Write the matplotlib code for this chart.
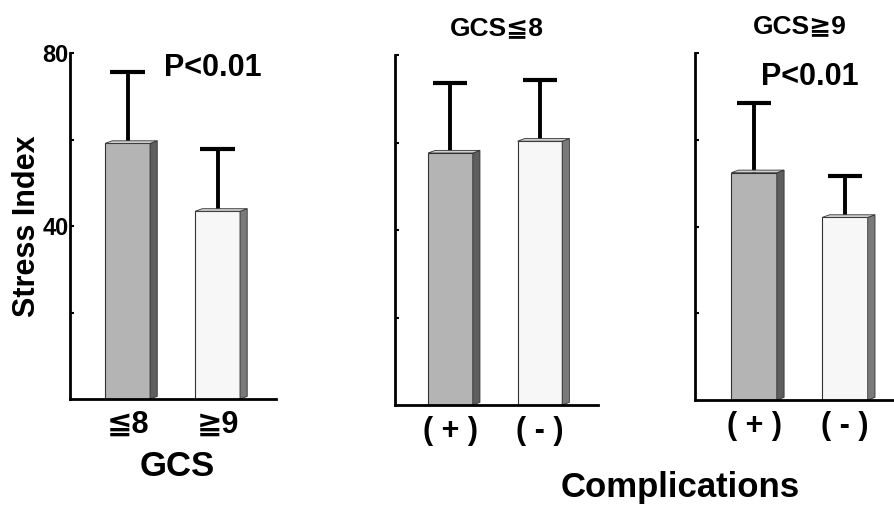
import numpy as np
import matplotlib.pyplot as plt
from matplotlib.patches import Polygon

plt.rcParams['font.family'] = ['Liberation Sans', 'DejaVu Sans']
plt.rcParams['font.weight'] = 'bold'

# values (mean, mean + SD)
gcs_labels = ['≦8', '≧9']
gcs_mean = [59.1, 43.4]
gcs_upper = [75.7, 57.7]

comp_labels = ['( + )', '( - )']
low_mean = [57.6, 60.3]      # GCS <= 8
low_upper = [73.6, 74.4]
high_mean = [52.4, 42.1]     # GCS >= 9
high_upper = [68.5, 51.7]

bar_colors = ['#b4b4b4', '#f7f7f7']
side_colors = ['#5e5e5e', '#7a7a7a']

W, H = 894, 507
fig = plt.figure(figsize=(W / 100, H / 100), dpi=100)


def px_axes(x0, x1, ytop, ybot):
    return fig.add_axes([x0 / W, 1 - ybot / H, (x1 - x0) / W, (ybot - ytop) / H])


def draw_panel(ax, means, uppers, labels, xlim, yticklabels):
    x = np.arange(len(means))
    width = 0.5
    depth = 0.08
    for i in range(len(means)):
        ax.bar(x[i], means[i], width, color=bar_colors[i], edgecolor='#333333',
               linewidth=0.8, zorder=2)
        r = x[i] + width / 2
        side = Polygon([(r, 0), (r + depth, 0.6), (r + depth, means[i] + 0.6), (r, means[i])],
                       closed=True, facecolor=side_colors[i], edgecolor='#333333',
                       linewidth=0.6, zorder=2)
        ax.add_patch(side)
        l = x[i] - width / 2
        top = Polygon([(l, means[i]), (l + depth, means[i] + 0.6), (r + depth, means[i] + 0.6),
                       (r, means[i])], closed=True, facecolor='#d0d0d0',
                      edgecolor='#333333', linewidth=0.6, zorder=2)
        ax.add_patch(top)
        # error bar (upper only)
        ax.plot([x[i], x[i]], [means[i], uppers[i]], color='black', lw=2.8, zorder=1)
        ax.plot([x[i] - 0.19, x[i] + 0.19], [uppers[i], uppers[i]], color='black',
                lw=3, solid_capstyle='butt', zorder=1)
    ax.set_xlim(*xlim)
    ax.set_ylim(0, 80)
    for s in ['top', 'right']:
        ax.spines[s].set_visible(False)
    for s in ['left', 'bottom']:
        ax.spines[s].set_linewidth(2)
    ax.set_yticks([20, 40, 60, 80])
    ax.set_yticklabels(yticklabels, fontsize=17, fontweight='bold')
    ax.tick_params(axis='y', direction='in', length=3, width=1.5, pad=1)
    ax.set_xticks(x)
    ax.set_xticklabels(labels, fontsize=22, fontweight='bold')
    ax.tick_params(axis='x', length=0, pad=8)
    ax.patch.set_alpha(0)


ax1 = px_axes(70, 276, 53, 399)
draw_panel(ax1, gcs_mean, gcs_upper, gcs_labels, (-0.64, 1.65), ['', '40', '', '80'])
ax1.set_ylabel('Stress Index', fontsize=22, fontweight='bold', labelpad=0)
ax1.text(0.4, 76.5, 'P<0.01', fontsize=22, fontweight='bold', va='center')

ax2 = px_axes(395, 598, 55, 405)
draw_panel(ax2, low_mean, low_upper, comp_labels, (-0.62, 1.65), ['', '', '', ''])
ax2.set_title('GCS≦8', fontsize=19, fontweight='bold', pad=14)

ax3 = px_axes(695, 905, 53, 400)
draw_panel(ax3, high_mean, high_upper, comp_labels, (-0.65, 1.66), ['', '', '', ''])
ax3.set_title('GCS≧9', fontsize=19, fontweight='bold', pad=14)
ax3.text(0.08, 74.5, 'P<0.01', fontsize=22, fontweight='bold', va='center')

fig.text(177 / W, 1 - 467 / H, 'GCS', fontsize=25, fontweight='bold', ha='center', va='center')
fig.text(680 / W, 1 - 488 / H, 'Complications', fontsize=25, fontweight='bold',
         ha='center', va='center')

fig.savefig('out.png', dpi=100)
